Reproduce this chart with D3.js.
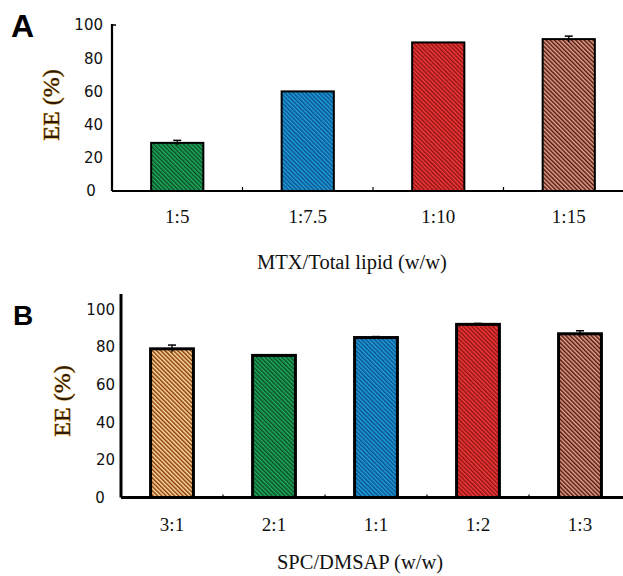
<!DOCTYPE html>
<html>
<head>
<meta charset="utf-8">
<script src="https://cdn.jsdelivr.net/npm/d3@7"></script>
<style>
  html, body { margin: 0; padding: 0; background: #fff; }
  svg { display: block; }
</style>
</head>
<body>
<svg id="chart" width="623" height="576"></svg>
<script>
// ---- Data ----
const catA = ["1:5", "1:7.5", "1:10", "1:15"];
const valA = [29, 60, 89.5, 91.5];
const errA = [1.5, 0, 0, 1.8];
const colA = ["green", "blue", "red", "brown"];

const catB = ["3:1", "2:1", "1:1", "1:2", "1:3"];
const valB = [79, 75.5, 85, 92, 87];
const errB = [2, 0, 0.5, 0.5, 1.6];
const colB = ["orange", "green", "blue", "red", "brown"];

const yTicks = [0, 20, 40, 60, 80, 100];
const titleA = "MTX/Total lipid (w/w)";
const titleB = "SPC/DMSAP (w/w)";
const yTitle = "EE (%)";

// ---- Patterns ----
const palette = {
  green:  { light: "#1fae5a", dark: "#0b4d2a" },
  blue:   { light: "#1f9fe0", dark: "#0b5288" },
  red:    { light: "#f53a3a", dark: "#8e1414" },
  brown:  { light: "#eda48f", dark: "#4a1a10" },
  orange: { light: "#ffe3a6", dark: "#8a3608" }
};

const svg = d3.select("#chart");
const defs = svg.append("defs");
Object.entries(palette).forEach(([k, c]) => {
  const p = defs.append("pattern")
    .attr("id", "pat-" + k)
    .attr("patternUnits", "userSpaceOnUse")
    .attr("width", 3).attr("height", 3)
    .attr("patternTransform", "rotate(-45)");
  p.append("rect").attr("width", 3).attr("height", 3).attr("fill", c.light);
  p.append("rect").attr("width", 1.5).attr("height", 3).attr("fill", c.dark);
});

function panel(cfg) {
  const g = svg.append("g");
  const x = d3.scaleBand().domain(cfg.cats).range(cfg.xRange)
    .paddingInner(cfg.pad).paddingOuter(cfg.pad / 2);
  const y = d3.scaleLinear().domain([0, 100]).range(cfg.yRange);

  // bars
  g.selectAll("rect.bar").data(cfg.cats).join("rect")
    .attr("class", "bar")
    .attr("x", d => x(d))
    .attr("width", x.bandwidth())
    .attr("y", (d, i) => y(cfg.vals[i]))
    .attr("height", (d, i) => y(0) - y(cfg.vals[i]))
    .attr("fill", (d, i) => "url(#pat-" + cfg.cols[i] + ")")
    .attr("stroke", "#000")
    .attr("stroke-width", cfg.sw);

  // error bars
  cfg.cats.forEach((c, i) => {
    if (!cfg.errs[i]) return;
    const cx = x(c) + x.bandwidth() / 2;
    const top = y(cfg.vals[i] + cfg.errs[i]);
    const bot = y(cfg.vals[i] - cfg.errs[i]);
    g.append("line").attr("x1", cx).attr("x2", cx).attr("y1", top).attr("y2", bot)
      .attr("stroke", "#000").attr("stroke-width", 1.3);
    g.append("line").attr("x1", cx - 4).attr("x2", cx + 4).attr("y1", top).attr("y2", top)
      .attr("stroke", "#000").attr("stroke-width", 1.5);
  });

  // axes lines
  const x0 = cfg.xRange[0];
  g.append("line").attr("x1", x0).attr("x2", 623).attr("y1", y(0)).attr("y2", y(0))
    .attr("stroke", "#000").attr("stroke-width", cfg.aw);
  g.append("line").attr("x1", x0).attr("x2", x0).attr("y1", cfg.yTop).attr("y2", y(0))
    .attr("stroke", "#000").attr("stroke-width", cfg.aw);
  if (cfg.topHook) {
    g.append("line").attr("x1", x0).attr("x2", x0 + 4).attr("y1", y(100)).attr("y2", y(100))
      .attr("stroke", "#000").attr("stroke-width", 1.5);
  }

  // x ticks between bars
  const step = x.step();
  cfg.cats.slice(0, -1).forEach(c => {
    const tx = x(c) + x.bandwidth() + (step - x.bandwidth()) / 2;
    g.append("line").attr("x1", tx).attr("x2", tx).attr("y1", y(0)).attr("y2", y(0) - cfg.tick)
      .attr("stroke", "#000").attr("stroke-width", 1.2);
  });

  // y tick labels
  g.selectAll("text.yt").data(yTicks).join("text")
    .attr("class", "yt")
    .attr("x", d => d === 0 ? cfg.zeroX : cfg.ytX)
    .attr("y", d => y(d))
    .attr("dy", "0.36em")
    .attr("text-anchor", d => d === 0 ? "middle" : "end")
    .attr("font-family", "DejaVu Sans, Verdana, sans-serif")
    .attr("font-size", 15)
    .attr("fill", "#111")
    .text(d => d);

  // x tick labels
  g.selectAll("text.xt").data(cfg.cats).join("text")
    .attr("class", "xt")
    .attr("x", d => x(d) + x.bandwidth() / 2)
    .attr("y", cfg.xtY)
    .attr("text-anchor", "middle")
    .attr("font-family", "Liberation Serif, Times New Roman, serif")
    .attr("font-size", 19)
    .attr("fill", "#111")
    .text(d => d);

  // x title
  g.append("text")
    .attr("x", cfg.titleX).attr("y", cfg.titleY)
    .attr("text-anchor", "middle")
    .attr("font-family", "Liberation Serif, Times New Roman, serif")
    .attr("font-size", 20.5)
    .attr("fill", "#111")
    .text(cfg.title);

  // y title
  g.append("text")
    .attr("transform", `translate(${cfg.yTitleX},${cfg.yTitleY}) rotate(-90)`)
    .attr("text-anchor", "middle")
    .attr("font-family", "Liberation Serif, Times New Roman, serif")
    .attr("font-size", 24)
    .attr("fill", "#2a1a06")
    .attr("stroke", "#e09a30")
    .attr("stroke-width", 0.8)
    .attr("paint-order", "stroke")
    .text(yTitle);

  // panel letter
  g.append("text")
    .attr("x", cfg.letterX).attr("y", cfg.letterY)
    .attr("font-family", "Liberation Sans, Arial, sans-serif")
    .attr("font-weight", "bold")
    .attr("font-size", cfg.letterSize)
    .attr("fill", "#000")
    .text(cfg.letter);
}

panel({
  cats: catA, vals: valA, errs: errA, cols: colA,
  xRange: [112, 634], pad: 0.6, yRange: [191, 25], yTop: 24,
  sw: 2, aw: 2.2, tick: 4, topHook: true,
  ytX: 103, zeroX: 91, xtY: 223,
  title: titleA, titleX: 352, titleY: 269,
  yTitleX: 59, yTitleY: 105,
  letter: "A", letterX: 11, letterY: 37, letterSize: 32
});

panel({
  cats: catB, vals: valB, errs: errB, cols: colB,
  xRange: [121, 631], pad: 0.58, yRange: [497.5, 309.3], yTop: 294,
  sw: 3, aw: 3, tick: 3, topHook: false,
  ytX: 115, zeroX: 100, xtY: 531,
  title: titleB, titleX: 360, titleY: 569,
  yTitleX: 70, yTitleY: 401,
  letter: "B", letterX: 13, letterY: 325, letterSize: 28
});
</script>
</body>
</html>
